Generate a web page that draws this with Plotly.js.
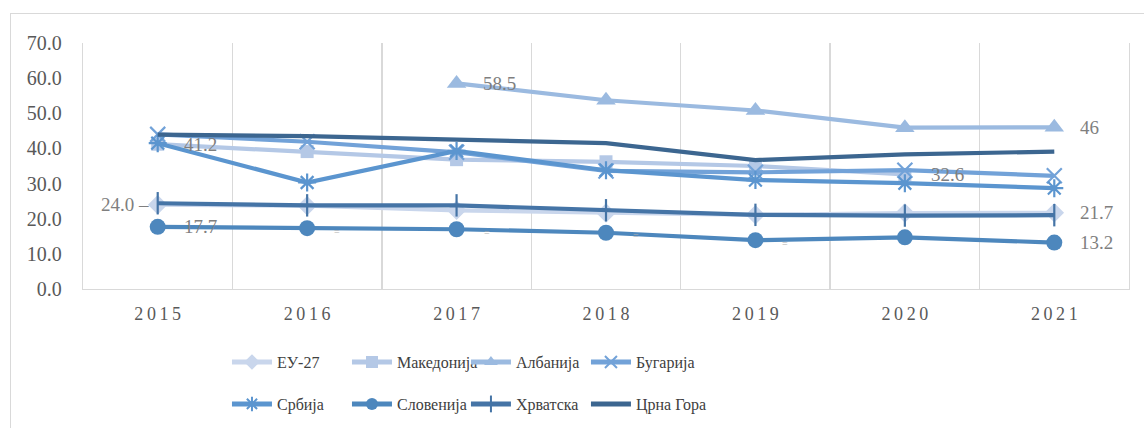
<!DOCTYPE html>
<html>
<head>
<meta charset="utf-8">
<script src="https://cdn.plot.ly/plotly-3.0.1.min.js"></script>
<style>
html,body{margin:0;padding:0;background:#fff;overflow:hidden;}
#wrap{position:relative;width:1144px;height:428px;overflow:hidden;}
#chart{width:1144px;height:428px;}
#frame{position:absolute;left:10px;top:13px;width:1200px;height:500px;border:1px solid #d9d9d9;pointer-events:none;}
</style>
</head>
<body>
<div id="wrap"><div id="chart"></div><div id="frame"></div></div>
<script>
// ---- data ----
const years = ['2015','2016','2017','2018','2019','2020','2021'];
const seriesNames = ['ЕУ-27','Македонија','Албанија','Бугарија','Србија','Словенија','Хрватска','Црна Гора'];
const eu27      = [24.0, 23.7, 22.4, 21.6, 21.1, 21.6, 21.7];
const makedonia = [41.2, 39.1, 36.8, 36.2, 35.0, 32.6, null];
const albania   = [null, null, 58.5, 53.7, 50.8, 45.9, 46];
const bugaria   = [44.0, 41.9, 38.9, 33.6, 33.2, 33.8, 32.2];
const srbija    = [41.5, 30.3, 39.3, 33.8, 31.0, 30.1, 28.7];
const slovenija = [17.7, 17.3, 17.0, 16.0, 13.9, 14.7, 13.2];
const hrvatska  = [24.4, 23.8, 23.8, 22.4, 21.1, 20.9, 21.0];
const crnagora  = [43.9, 43.5, 42.5, 41.5, 36.7, 38.3, 39.1];
const yTicks = [0,10,20,30,40,50,60,70];

// ---- styles ----
const colors = ['#c9d6ec','#b4c8e6','#9bbae0','#72a2d8','#5b95cf','#4d87bd','#4574a6','#3c6690'];
const serif = '"Liberation Serif", "Times New Roman", serif';

function tr(name, y, i, symbol, size, open){
  const t = {
    type:'scatter', mode: symbol ? 'lines+markers' : 'lines',
    name: name, x: years, y: y, legend: i === 0 ? 'legend' : 'legend' + (i + 1),
    line:{color:colors[i], width:4.2},
    connectgaps:false, cliponaxis:false,
    hoverinfo:'skip'
  };
  if(symbol){
    t.marker = {symbol:symbol, size:size, color:colors[i],
      line:{color:colors[i], width: open ? 2.2 : 0}};
  }
  return t;
}

const data = [
  tr(seriesNames[0], eu27, 0, 'diamond', 15, false),
  tr(seriesNames[1], makedonia, 1, 'square', 13, false),
  tr(seriesNames[2], albania, 2, 'triangle-up', 17, false),
  tr(seriesNames[3], bugaria, 3, 'x-thin-open', 15, true),
  tr(seriesNames[4], srbija, 4, 'asterisk-open', 15, true),
  tr(seriesNames[5], slovenija, 5, 'circle', 16, false),
  tr(seriesNames[6], hrvatska, 6, 'line-ns-open', 16, true),
  tr(seriesNames[7], crnagora, 7, null, 0, false)
];

// ---- data labels (x given as category index) ----
const lblFont = {family:serif, size:19, color:'#7f7f7f'};
function lbl(xi, y, text, side){
  return {xref:'x', yref:'y', x: xi, y: y, text: text, showarrow:false, font: lblFont,
    xanchor: side === 'left' ? 'right' : 'left', yanchor:'middle',
    xshift: side === 'left' ? -7 : 24, yshift: 0};
}
const annotations = [
  lbl(2, albania[2], String(albania[2]), 'right'),
  lbl(6, albania[6], String(albania[6]), 'right'),
  lbl(0, makedonia[0], makedonia[0].toFixed(1), 'right'),
  lbl(5, makedonia[5], makedonia[5].toFixed(1), 'right'),
  lbl(0, eu27[0], eu27[0].toFixed(1) + ' –', 'left'),
  lbl(6, eu27[6], eu27[6].toFixed(1), 'right'),
  lbl(0, slovenija[0], slovenija[0].toFixed(1), 'right'),
  lbl(6, slovenija[6], slovenija[6].toFixed(1), 'right')
];
[1,2,3,4].forEach(i => {
  annotations.push({xref:'x', yref:'y', x: i, y: slovenija[i], text:'=', showarrow:false,
    font:{family:serif, size:10, color:'#b0b0b0'}, xanchor:'center', yanchor:'middle',
    xshift:30, yshift:-3});
});

// ---- one legend per series: 4 columns x 2 rows ----
const colX = [0.1984, 0.3033, 0.4073, 0.5122];
const rowY = [0.154, 0.056];
const layout = {
  width:1144, height:428,
  margin:{l:83, r:15, t:43, b:139, autoexpand:false},
  paper_bgcolor:'rgba(0,0,0,0)', plot_bgcolor:'#fff',
  showlegend:true,
  xaxis:{type:'category', tickson:'boundaries', showgrid:true, gridcolor:'#d9d9d9', gridwidth:1.3,
    showline:true, linecolor:'#d9d9d9', linewidth:1.3, ticks:'', zeroline:false,
    tickvals: years, ticktext: years.map(s => s.split('').join('\u2009')),
    tickfont:{family:serif, size:18, color:'#595959'}, ticklabelstandoff:8,
    range:[-0.5, 6.5], fixedrange:true, automargin:false},
  yaxis:{range:[0,70], tickvals:yTicks, tickformat:'.1f', showgrid:false, zeroline:false,
    showline:true, mirror:true, linecolor:'#d9d9d9', linewidth:1.3,
    ticks:'', tickfont:{family:serif, size:20, color:'#595959'},
    ticklabelstandoff:16, fixedrange:true, automargin:false},
  annotations: annotations
};
seriesNames.forEach((n, i) => {
  const key = i === 0 ? 'legend' : 'legend' + (i + 1);
  layout[key] = {orientation:'v', xref:'container', yref:'container',
    xanchor:'left', yanchor:'middle', x: colX[i % 4], y: rowY[Math.floor(i / 4)],
    font:{family:serif, size:16, color:'#404040'},
    itemsizing:'constant', bgcolor:'rgba(0,0,0,0)', itemwidth:40};
});

Plotly.newPlot('chart', data, layout, {staticPlot:true, displayModeBar:false});
</script>
</body>
</html>
